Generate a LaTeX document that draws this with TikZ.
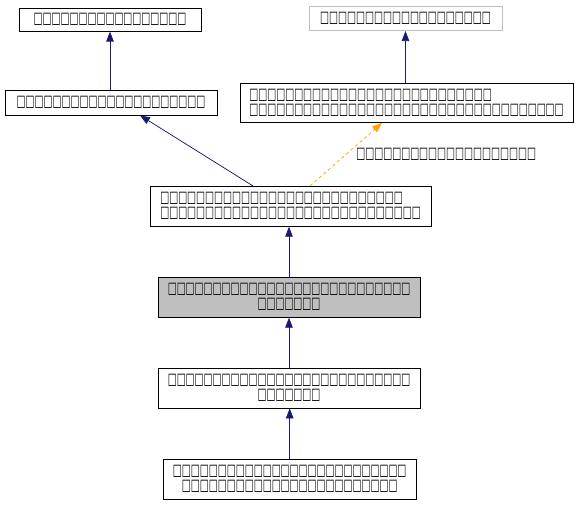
\documentclass[tikz,border=0pt]{standalone}
\usepackage{fontspec}
\usetikzlibrary{arrows.meta}
\newfontfamily\boxfont[FakeStretch=0.594]{DejaVu Sans}
\definecolor{edgeblue}{RGB}{25,25,112}
\definecolor{edgeorange}{RGB}{255,165,0}
\definecolor{boxgray}{RGB}{191,191,191}
\tikzset{every picture/.style={line width=0.75pt}}
\tikzset{
	classbox/.style={draw=black, fill=white, inner sep=0pt, font=\boxfont\fontsize{16}{15}\selectfont, text=black},
	edge/.style={draw=edgeblue, -{Triangle[length=10pt,width=7.5pt]}},
	usedge/.style={draw=edgeorange, dashed, -{Triangle[length=10pt,width=7.5pt]}}}

\begin{document}
\begin{tikzpicture}[x=1pt,y=1pt,yscale=-1,xscale=1]
	\useasboundingbox (0,0) rectangle (576,504);

	% Class Nodes
	\node [classbox, minimum width=182, minimum height=23] (base) at (110,19.7) {□□□□□□□□□□□□□□□□□};
	\node [classbox, draw=boxgray, minimum width=193, minimum height=24] (ext) at (405.5,18.7) {□□□□□□□□□□□□□□□□□□□};
	\node [classbox, minimum width=212, minimum height=25] (mid) at (111,102.5) {□□□□□□□□□□□□□□□□□□□□□};
	\node [classbox, align=left, minimum width=333, minimum height=39] (tmpl) at (406.5,103) {□□□□□□□□□□□□□□□□□□□□□□□□□□□\\□□□□□□□□□□□□□□□□□□□□□□□□□□□□□□□□□□□};
	\node [classbox, align=left, minimum width=281, minimum height=40] (impl) at (290.5,206.3) {□□□□□□□□□□□□□□□□□□□□□□□□□□□\\□□□□□□□□□□□□□□□□□□□□□□□□□□□□□};
	\node [classbox, fill=boxgray, align=center, minimum width=262, minimum height=40] (self) at (289,297.3) {□□□□□□□□□□□□□□□□□□□□□□□□□□□\\□□□□□□□};
	\node [classbox, align=center, minimum width=262, minimum height=40] (child) at (289,388) {□□□□□□□□□□□□□□□□□□□□□□□□□□□\\□□□□□□□};
	\node [classbox, align=center, minimum width=253, minimum height=40] (leaf) at (289.7,479) {□□□□□□□□□□□□□□□□□□□□□□□□□□\\□□□□□□□□□□□□□□□□□□□□□□□□};

	% Inheritance
	\draw [edge] (base.south |- mid.north) -- (base.south);
	\draw [edge] (ext.south |- tmpl.north) -- (ext.south);
	\draw [edge] ([xshift=-37.5]impl.north) -- ([xshift=29]mid.south);
	\draw [edge] (self.north) -- (self.north |- impl.south);
	\draw [edge] (child.north) -- (child.north |- self.south);
	\draw [edge] (leaf.north) -- (leaf.north |- child.south);
	% Template usage
	\draw [usedge] ([xshift=19.5]impl.north) -- ([xshift=-24.5]tmpl.south) node [pos=0.5, right=10pt, classbox, draw=none, fill=none] (usage) {□□□□□□□□□□□□□□□□□□□□};

\end{tikzpicture}
\end{document}
